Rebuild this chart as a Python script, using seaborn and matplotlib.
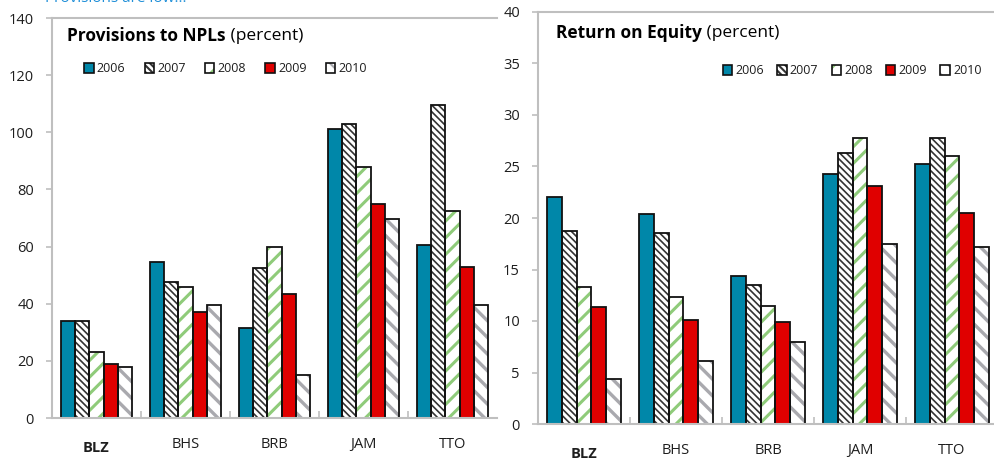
import matplotlib
matplotlib.use("Agg")
import matplotlib.pyplot as plt
from matplotlib.patches import Rectangle
from matplotlib.ticker import FixedLocator
import numpy as np
import pandas as pd
import seaborn as sns

countries = ["BLZ", "BHS", "BRB", "JAM", "TTO"]
years = ["2006", "2007", "2008", "2009", "2010"]

# Provisions to NPLs (percent), one list per year in country order
prov_2006 = [34.0, 54.5, 31.5, 101.0, 60.5]
prov_2007 = [34.0, 47.5, 52.5, 103.0, 109.5]
prov_2008 = [23.0, 46.0, 60.0, 88.0, 72.5]
prov_2009 = [19.0, 37.0, 43.5, 75.0, 53.0]
prov_2010 = [18.0, 39.5, 15.0, 69.5, 39.5]

# Return on equity (percent)
roe_2006 = [22.0, 20.4, 14.4, 24.3, 25.2]
roe_2007 = [18.7, 18.5, 13.5, 26.3, 27.8]
roe_2008 = [13.3, 12.3, 11.5, 27.8, 26.0]
roe_2009 = [11.4, 10.1, 9.9, 23.1, 20.5]
roe_2010 = [4.4, 6.1, 8.0, 17.5, 17.2]

prov_ticks = [0, 20, 40, 60, 80, 100, 120, 140]
roe_ticks = [0, 5, 10, 15, 20, 25, 30, 35, 40]

# style per year: fill, hatch pattern, hatch colour, hatch width
fills = {"2006": "#0087A9", "2007": "white", "2008": "white", "2009": "#E00000", "2010": "white"}
hatches = {"2006": None, "2007": "\\\\\\\\\\", "2008": "//", "2009": None, "2010": "\\\\"}
hatch_colors = {"2006": "#0087A9", "2007": "#333333", "2008": "#8FCB7A", "2009": "#E00000", "2010": "#A9A9AE"}
hatch_widths = {"2006": 1.0, "2007": 1.2, "2008": 2.2, "2009": 1.0, "2010": 2.4}


def long_frame(series):
    rows = []
    for yr, vals in zip(years, series):
        for c, v in zip(countries, vals):
            rows.append({"country": c, "year": yr, "value": v})
    return pd.DataFrame(rows)


prov_df = long_frame([prov_2006, prov_2007, prov_2008, prov_2009, prov_2010])
roe_df = long_frame([roe_2006, roe_2007, roe_2008, roe_2009, roe_2010])

sns.set_theme(style="white")
plt.rcParams["font.family"] = ["Open Sans", "DejaVu Sans"]
plt.rcParams["hatch.linewidth"] = 1.5

fig = plt.figure(figsize=(9.94, 4.61), dpi=100)
W, H = 994.0, 461.0
ax1 = fig.add_axes([52 / W, (H - 418) / H, (497 - 52) / W, 400 / H])
ax2 = fig.add_axes([538 / W, (H - 424) / H, (998 - 538) / W, 412 / H])

spine_col = "#BFBFBF"
text_col = "#1E1E1E"


def draw_panel(ax, df, ticks, title, legend_xy, colspace):
    sns.barplot(data=df, x="country", y="value", hue="year", order=countries,
                hue_order=years, palette=[fills[y] for y in years],
                linewidth=0, saturation=1, ax=ax, legend=False, width=0.8)
    handles = []
    for yr, cont in zip(years, ax.containers):
        for p in cont.patches:
            p.set_facecolor(fills[yr])
            if hatches[yr]:
                p.set_hatch(hatches[yr])
                p.set_edgecolor(hatch_colors[yr])
                if hasattr(p, "set_hatch_linewidth"):
                    p.set_hatch_linewidth(hatch_widths[yr])
            else:
                p.set_edgecolor(fills[yr])
            p.set_linewidth(0)
            ax.add_patch(Rectangle(p.get_xy(), p.get_width(), p.get_height(),
                                   fill=False, edgecolor="#111111", linewidth=1.3,
                                   zorder=p.get_zorder() + 0.1))
        h1 = Rectangle((0, 0), 1, 1, facecolor=fills[yr], edgecolor=hatch_colors[yr],
                       linewidth=0, hatch=hatches[yr])
        h2 = Rectangle((0, 0), 1, 1, fill=False, edgecolor="#111111", linewidth=1.2)
        handles.append((h1, h2))

    ax.set_ylim(ticks[0], ticks[-1])
    ax.set_xlim(-0.5, len(countries) - 0.5)
    ax.yaxis.set_major_locator(FixedLocator(ticks))
    ax.set_xlabel("")
    ax.set_ylabel("")
    for s in ["left", "bottom", "top"]:
        ax.spines[s].set_color(spine_col)
        ax.spines[s].set_linewidth(1.5)
    ax.spines["right"].set_visible(False)
    ax.tick_params(axis="y", which="major", direction="out", length=4, width=1.2,
                   color=spine_col, pad=9, labelsize=10.5, labelcolor=text_col, left=True)
    ax.tick_params(axis="x", which="major", length=0, pad=14, labelsize=10.5,
                   labelcolor=text_col)
    ax.xaxis.set_minor_locator(FixedLocator(np.arange(0.5, len(countries) - 0.5, 1.0)))
    ax.tick_params(axis="x", which="minor", direction="in", length=5, width=1.2,
                   color=spine_col, bottom=True)
    for lab in ax.get_xticklabels():
        if lab.get_text() == "BLZ":
            lab.set_fontweight("bold")
            lab.set_y(-0.008)

    t = ax.text(title[0], title[1], title[2], transform=ax.transAxes, fontsize=12.5,
                fontweight="bold", color="black", va="center", ha="left")
    ax.annotate(" (percent)", xy=(1, 0.5), xycoords=t, va="center", ha="left",
                fontsize=12.5, color="black")

    ax.legend(handles, years, ncol=5, loc="center", bbox_to_anchor=legend_xy,
              bbox_transform=ax.transAxes, frameon=False, fontsize=9,
              handlelength=0.75, handleheight=0.75, handletextpad=0.25,
              columnspacing=colspace, borderaxespad=0,
              labelcolor=text_col)


draw_panel(ax1, prov_df, prov_ticks, (0.034, 0.955, "Provisions to NPLs"), (0.39, 0.873), 1.55)
draw_panel(ax2, roe_df, roe_ticks, (0.04, 0.949, "Return on Equity"), (0.683, 0.857), 1.07)

fig.text(45 / W, (H - 2) / H, "Provisions are low...", color="#1F8FD8", fontsize=11,
         ha="left", va="baseline")

fig.savefig("out.png", dpi=100)
